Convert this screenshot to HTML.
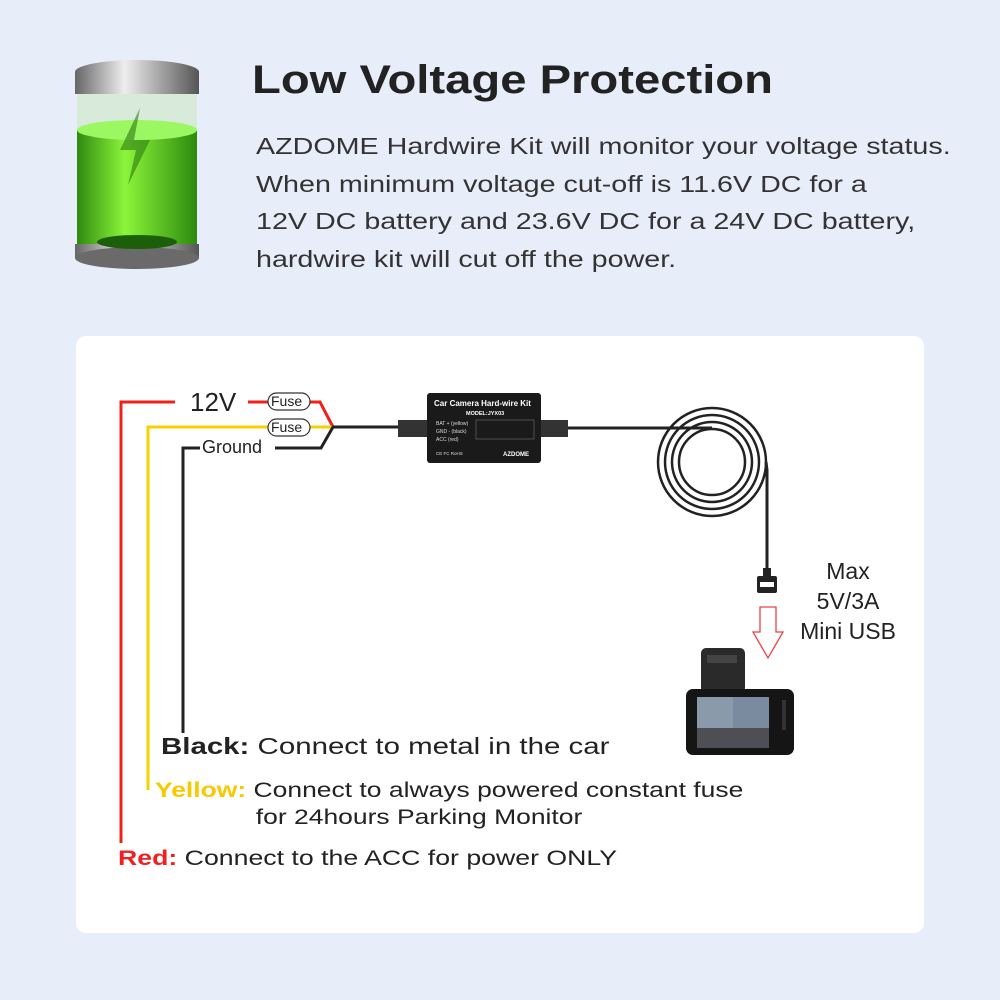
<!DOCTYPE html>
<html><head><meta charset="utf-8"><style>
body{margin:0;width:1000px;height:1000px;background:#e7eefa;font-family:"Liberation Sans",sans-serif;position:relative;overflow:hidden;color:#222}
.t{position:absolute;white-space:nowrap;transform-origin:0 0}
</style></head><body>
<svg width="1000" height="1000" style="position:absolute;left:0;top:0">
<defs>
<linearGradient id="g" x1="0" x2="1"><stop offset="0" stop-color="#2f8a10"/><stop offset="0.4" stop-color="#8cf53a"/><stop offset="1" stop-color="#2c8a0d"/></linearGradient>
<linearGradient id="m" x1="0" x2="1"><stop offset="0" stop-color="#666"/><stop offset="0.4" stop-color="#eee"/><stop offset="1" stop-color="#555"/></linearGradient>
</defs>
<ellipse cx="137" cy="72" rx="62" ry="12" fill="url(#m)"/>
<rect x="75" y="72" width="124" height="22" fill="url(#m)"/>
<rect x="77" y="94" width="120" height="150" fill="#cfe9c5" opacity="0.6"/>
<rect x="77" y="130" width="120" height="114" fill="url(#g)"/>
<ellipse cx="137" cy="130" rx="60" ry="10" fill="#9cf862"/>
<rect x="75" y="244" width="124" height="14" fill="url(#m)"/>
<ellipse cx="137" cy="258" rx="62" ry="11" fill="#6a6a6a"/>
<ellipse cx="137" cy="242" rx="40" ry="7" fill="#1d5e08"/>
<path d="M140 108 L120 150 L136 150 L128 185 L150 140 L134 140 Z" fill="#2c7a10" opacity="0.6"/>
<rect x="76" y="336" width="848" height="597" rx="10" fill="#fff"/>
<g fill="none" stroke-width="3">
<polyline points="121,843 121,402 175,402" stroke="#f0201a"/>
<polyline points="248,402 268,402" stroke="#f0201a"/>
<polyline points="310,402 320,402 333,427" stroke="#f0201a"/>
<polyline points="148,790 148,427 268,427" stroke="#f8d000"/>
<polyline points="310,427 333,427" stroke="#f8d000"/>
<polyline points="183,733 183,448 200,448" stroke="#222"/>
<polyline points="275,448 321,448 333,427 400,427" stroke="#222"/>
<line x1="565" y1="428" x2="712" y2="428" stroke="#222"/>
<g stroke="#222" stroke-width="2.5">
<circle cx="712" cy="462" r="33"/><circle cx="712" cy="462" r="40"/><circle cx="712" cy="462" r="47"/><circle cx="712" cy="462" r="54"/>
</g>
<polyline points="766,462 767,470 767,570" stroke="#222"/>
</g>
<rect x="268" y="393" width="42" height="17" rx="8.5" fill="#fff" stroke="#333" stroke-width="1.2"/>
<rect x="268" y="419" width="42" height="17" rx="8.5" fill="#fff" stroke="#333" stroke-width="1.2"/>
<rect x="398" y="420" width="30" height="17" fill="#333"/>
<rect x="540" y="420" width="28" height="17" fill="#333"/>
<rect x="427" y="393" width="114" height="70" rx="3" fill="#1a1a1a"/>
<text x="434" y="406" font-size="8" font-weight="bold" fill="#fff" font-family="Liberation Sans">Car Camera Hard-wire Kit</text>
<text x="466" y="415" font-size="5.5" font-weight="bold" fill="#fff" font-family="Liberation Sans">MODEL:JYX03</text>
<text x="436" y="425" font-size="5" fill="#ddd" font-family="Liberation Sans">BAT + (yellow)</text>
<text x="436" y="433" font-size="5" fill="#ddd" font-family="Liberation Sans">GND - (black)</text>
<text x="436" y="441" font-size="5" fill="#ddd" font-family="Liberation Sans">ACC   (red)</text>
<rect x="476" y="420" width="58" height="19" fill="none" stroke="#666" stroke-width="0.7"/>
<text x="503" y="456" font-size="6" font-weight="bold" fill="#fff" font-family="Liberation Sans">AZDOME</text>
<text x="436" y="455" font-size="4.5" fill="#ddd" font-family="Liberation Sans">CE FC RoHS</text>
<rect x="763" y="568" width="8" height="8" fill="#222"/>
<rect x="757" y="576" width="20" height="17" rx="2" fill="#222"/>
<rect x="760" y="582" width="14" height="5" fill="#fff"/>
<path d="M760 607 H776 V632 H783 L768 658 L753 632 H760 Z" fill="#fff" stroke="#f04040" stroke-width="1.3"/>
<rect x="701" y="648" width="44" height="45" rx="5" fill="#2a2a2a"/>
<rect x="707" y="655" width="30" height="8" fill="#444"/>
<rect x="686" y="689" width="108" height="66" rx="7" fill="#151515"/>
<rect x="697" y="697" width="72" height="51" fill="#7a8ba0"/>
<rect x="697" y="697" width="36" height="51" fill="#8a9aab"/>
<rect x="697" y="728" width="72" height="20" fill="#4d4f55"/>
<rect x="782" y="700" width="4" height="30" fill="#333"/>
</svg>
<div class="t" style="left:252px;top:58px;font-size:40px;font-weight:bold;color:#222;transform:scaleX(1.18)">Low Voltage Protection</div>
<div class="t" style="left:256px;top:128px;font-size:23.5px;line-height:37.7px;color:#333;transform:scaleX(1.22)">AZDOME Hardwire Kit will monitor your voltage status.<br>When minimum voltage cut-off is 11.6V DC for a<br>12V DC battery and 23.6V DC for a 24V DC battery,<br>hardwire kit will cut off the power.</div>
<div class="t" style="left:190px;top:387px;font-size:26px;color:#222">12V</div>
<div class="t" style="left:271px;top:393px;font-size:14px">Fuse</div>
<div class="t" style="left:271px;top:419px;font-size:14px">Fuse</div>
<div class="t" style="left:202px;top:437px;font-size:18px">Ground</div>
<div class="t" style="left:790px;top:556px;font-size:23px;line-height:30px;text-align:center;width:116px">Max<br>5V/3A<br>Mini USB</div>
<div class="t" style="left:161px;top:733px;font-size:23px;transform:scaleX(1.28)"><b>Black:</b> Connect to metal in the car</div>
<div class="t" style="left:155px;top:777px;font-size:21px;line-height:27px;transform:scaleX(1.26)"><b style="color:#f8c800">Yellow:</b> Connect to always powered constant fuse<br><span style="padding-left:80px">for 24hours Parking Monitor</span></div>
<div class="t" style="left:118px;top:847px;font-size:21px;transform:scaleX(1.27)"><b style="color:#f02020">Red:</b> Connect to the ACC for power ONLY</div>
</body></html>
